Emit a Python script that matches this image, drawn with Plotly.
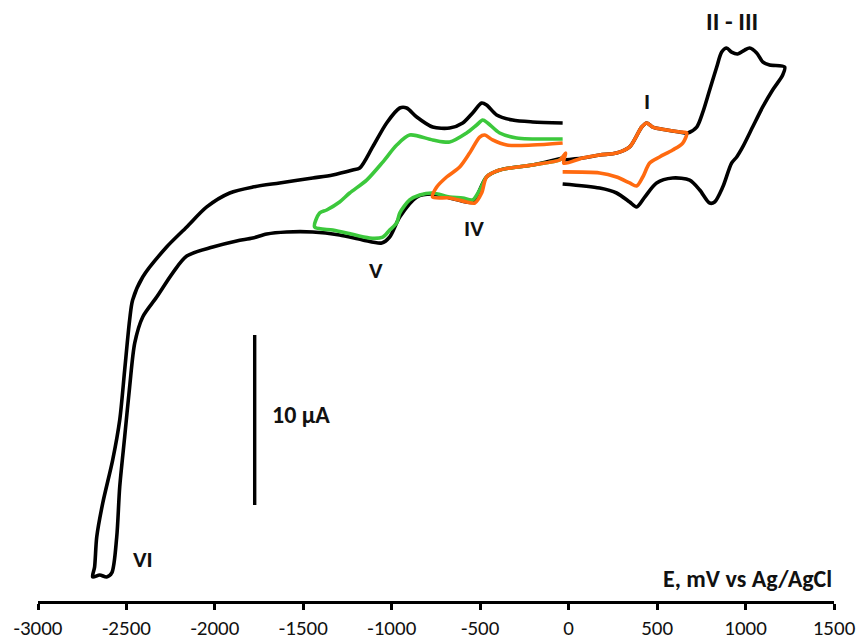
import plotly.graph_objects as go

# Potentials (mV vs Ag/AgCl) and currents (µA, arbitrary offset)
black_right_E = [-34, 79, 175, 271, 345, 413, 441, 475, 554, 627, 673, 724, 757, 797, 837, 865, 893, 921, 955, 995,
                 1023, 1063, 1097, 1136, 1221, 1210, 1153, 1097, 1040, 984, 950, 921, 871, 825, 797, 741, 684, 588,
                 497, 430, 384, 345, 271, 175, -34]
black_right_I = [25.94, 26.06, 26.24, 26.35, 26.71, 27.88, 28.12, 27.88, 27.71, 27.59, 27.53, 27.88, 28.71, 30.06,
                 31.41, 32.29, 32.53, 32.29, 32.18, 32.41, 32.53, 32.24, 31.71, 31.53, 31.41, 30.94, 30.06, 29.06,
                 27.88, 26.71, 26.12, 25.76, 24.35, 23.47, 23.41, 24.18, 24.76, 24.88, 24.59, 23.76, 23.18, 23.47,
                 24.0, 24.29, 24.53]

black_left_E = [-34, -204, -390, -464, -503, -531, -577, -673, -769, -859, -955, -1012, -1057, -1165, -1295, -1447,
                -1594, -1707, -1786, -1877, -2012, -2159, -2239, -2329, -2408, -2453, -2482, -2510, -2538, -2555,
                -2583, -2612, -2651, -2691, -2680, -2668, -2634, -2578, -2538, -2510, -2482, -2465, -2408, -2273,
                -2159, -2046, -1916, -1786, -1634, -1447, -1334, -1221, -1181, -1108, -1029, -955, -916, -859, -769,
                -673, -599, -543, -492, -464, -407, -317, -204, -34]
black_left_I = [26.06, 25.65, 25.35, 24.94, 24.18, 23.47, 23.47, 23.71, 23.94, 23.76, 22.59, 21.41, 21.06, 21.24,
                21.53, 21.71, 21.71, 21.59, 21.35, 21.18, 20.82, 20.29, 19.29, 17.88, 16.71, 15.18, 12.59, 9.65,
                6.71, 3.76, 1.65, 1.41, 1.53, 1.41, 2.0, 3.76, 5.76, 8.29, 10.65, 13.59, 16.53, 17.71, 19.06, 20.82,
                22.0, 23.18, 24.0, 24.35, 24.59, 24.88, 25.06, 25.35, 25.47, 26.71, 28.12, 29.0, 29.0, 28.47, 27.88,
                27.82, 28.12, 28.71, 29.29, 29.18, 28.59, 28.29, 28.18, 28.12]

green_E = [-34, -294, -390, -458, -486, -520, -577, -673, -769, -899, -972, -1051, -1142, -1238, -1295, -1368, -1408,
           -1436, -1334, -1255, -1125, -1051, -1012, -972, -955, -899, -842, -769, -673, -599, -543, -503, -464,
           -390, -204, -51, -34]
green_I = [27.18, 27.24, 27.53, 28.12, 28.29, 28.0, 27.53, 27.0, 27.12, 27.41, 26.82, 25.82, 24.76, 24.0, 23.47,
           23.0, 22.82, 22.0, 21.82, 21.65, 21.35, 21.41, 21.82, 22.24, 22.82, 23.59, 23.88, 24.0, 23.76, 23.71,
           23.59, 24.18, 24.94, 25.35, 25.65, 25.94, 26.12]

orange_E = [-34, -204, -350, -430, -475, -503, -560, -616, -690, -746, -769, -673, -577, -531, -492, -464, -390, -204,
            -51, -34, -17, -28, 79, 175, 271, 345, 413, 441, 475, 554, 627, 667, 645, 588, 514, 458, 419, 384, 345,
            271, 175, -34]
orange_I = [26.94, 26.82, 26.82, 27.12, 27.41, 27.29, 26.35, 25.53, 24.94, 24.35, 23.76, 23.71, 23.47, 23.41, 24.0,
            24.94, 25.35, 25.65, 25.94, 26.12, 26.35, 25.76, 26.06, 26.24, 26.35, 26.71, 27.88, 28.12, 27.88, 27.71,
            27.59, 27.53, 26.94, 26.53, 26.12, 25.76, 24.94, 24.41, 24.59, 24.94, 25.18, 25.24]

peak_labels = ["I", "II - III", "IV", "V", "VI"]
peak_label_E = [441, 921, -537, -1091, -2408]
peak_label_I = [29.41, 34.06, 21.94, 19.47, 2.47]
peak_label_size = [23, 25, 23, 23, 23]

scale_bar_E = [-1775, -1775]
scale_bar_I = [5.65, 15.65]
scale_bar_text = "10 µA"

x_ticks = [-3000, -2500, -2000, -1500, -1000, -500, 0, 500, 1000, 1500]
x_title = "E, mV vs Ag/AgCl"

FONT = "Calibri, Carlito, Lato, sans-serif"
BLACK = "#000000"
GREEN = "#3cc83c"
ORANGE = "#ff6a10"

fig = go.Figure()
line_style = dict(width=3.6, shape="spline", smoothing=0.8)
fig.add_trace(go.Scatter(x=black_right_E, y=black_right_I, mode="lines", line=dict(color=BLACK, **line_style)))
fig.add_trace(go.Scatter(x=black_left_E, y=black_left_I, mode="lines", line=dict(color=BLACK, **line_style)))
fig.add_trace(go.Scatter(x=green_E, y=green_I, mode="lines", line=dict(color=GREEN, **line_style)))
fig.add_trace(go.Scatter(x=orange_E, y=orange_I, mode="lines", line=dict(color=ORANGE, **line_style)))
fig.add_trace(go.Scatter(x=scale_bar_E, y=scale_bar_I, mode="lines", line=dict(color=BLACK, width=3.4)))

for t, xv, yv, fs in zip(peak_labels, peak_label_E, peak_label_I, peak_label_size):
    fig.add_annotation(x=xv, y=yv, text="<b>%s</b>" % t, showarrow=False,
                       font=dict(family=FONT, size=fs, color="#111"))
fig.add_annotation(x=scale_bar_E[0] + 85, y=(scale_bar_I[0] + scale_bar_I[1]) / 2 + 0.35,
                   text="<b>%s</b>" % scale_bar_text, showarrow=False, xanchor="left",
                   font=dict(family=FONT, size=24, color="#111"))
fig.add_annotation(x=1500, y=1.35, text="<b>%s</b>" % x_title, showarrow=False, xanchor="right",
                   font=dict(family=FONT, size=24, color="#111"))

fig.update_layout(
    width=862, height=641,
    margin=dict(l=38, r=28, t=0, b=40),
    paper_bgcolor="white", plot_bgcolor="white",
    showlegend=False,
    xaxis=dict(range=[-3000, 1500], tickvals=x_ticks, ticktext=[str(v) for v in x_ticks],
               showgrid=False, zeroline=False, showline=True, linecolor=BLACK, linewidth=2.5,
               ticks="outside", ticklen=6, tickwidth=2.5, tickcolor=BLACK,
               tickfont=dict(family=FONT, size=21, color="#111")),
    yaxis=dict(range=[0, 601 / 17], visible=False),
)

fig.write_html("out.html")
